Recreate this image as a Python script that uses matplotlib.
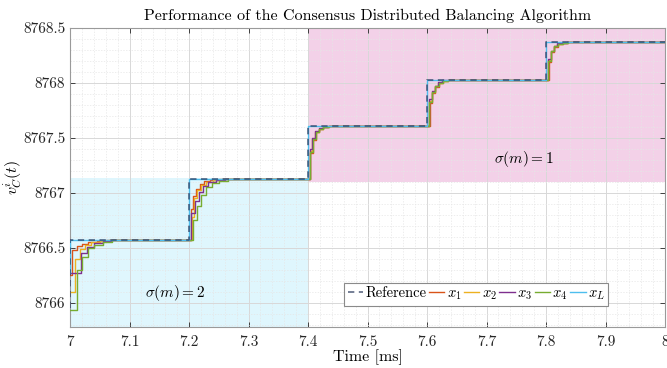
import matplotlib
matplotlib.use("Agg")
import matplotlib.pyplot as plt
from matplotlib.ticker import MultipleLocator
from matplotlib.patches import Rectangle

plt.rcParams['font.family'] = 'serif'
plt.rcParams['font.serif'] = ['cmr10', 'DejaVu Serif']
plt.rcParams['mathtext.fontset'] = 'cm'
plt.rcParams['axes.unicode_minus'] = False

# ---------------- data ----------------
xticks = [7.0, 7.1, 7.2, 7.3, 7.4, 7.5, 7.6, 7.7, 7.8, 7.9, 8.0]
xtick_labels = ['7', '7.1', '7.2', '7.3', '7.4', '7.5', '7.6', '7.7', '7.8', '7.9', '8']
yticks = [8766.0, 8766.5, 8767.0, 8767.5, 8768.0, 8768.5]
ytick_labels = ['8766', '8766.5', '8767', '8767.5', '8768', '8768.5']

t_ref = [7.0, 7.0, 7.2, 7.4, 7.6, 7.8, 8.0]
v_ref = [8765.95, 8766.57, 8767.125, 8767.61, 8768.03, 8768.37, 8768.37]

t_xL = [7.0, 7.0, 7.2, 7.4, 7.6, 7.8, 8.0]
v_xL = [8766.27, 8766.57, 8767.125, 8767.61, 8768.03, 8768.37, 8768.37]

t_x1 = [7.0, 7.004, 7.012, 7.02, 7.03, 7.045, 7.06,
        7.2035, 7.207, 7.212, 7.218, 7.226, 7.236, 7.25,
        7.404, 7.408, 7.413, 7.419, 7.426, 7.435,
        7.605, 7.609, 7.614, 7.62, 7.627, 7.636,
        7.805, 7.809, 7.814, 7.82, 7.828, 7.837, 8.0]
v_x1 = [8766.25, 8766.48, 8766.52, 8766.54, 8766.555, 8766.565, 8766.57,
        8766.85, 8766.97, 8767.04, 8767.08, 8767.105, 8767.118, 8767.125,
        8767.36, 8767.48, 8767.55, 8767.58, 8767.60, 8767.61,
        8767.82, 8767.91, 8767.965, 8768.00, 8768.02, 8768.03,
        8768.19, 8768.28, 8768.33, 8768.355, 8768.365, 8768.37, 8768.37]

t_x2 = [7.0, 7.008, 7.016, 7.025, 7.035, 7.05, 7.065,
        7.205, 7.209, 7.214, 7.22, 7.228, 7.24, 7.255,
        7.403, 7.407, 7.412, 7.418, 7.425, 7.434,
        7.604, 7.608, 7.613, 7.619, 7.626, 7.635,
        7.804, 7.808, 7.813, 7.819, 7.827, 7.836, 8.0]
v_x2 = [8766.10, 8766.40, 8766.49, 8766.53, 8766.55, 8766.565, 8766.57,
        8766.78, 8766.95, 8767.03, 8767.075, 8767.10, 8767.117, 8767.125,
        8767.38, 8767.49, 8767.555, 8767.585, 8767.602, 8767.61,
        8767.84, 8767.92, 8767.97, 8768.003, 8768.022, 8768.03,
        8768.21, 8768.29, 8768.335, 8768.357, 8768.366, 8768.37, 8768.37]

t_x3 = [7.0, 7.018, 7.028, 7.04, 7.055, 7.07,
        7.204, 7.21, 7.216, 7.223, 7.232, 7.245, 7.26,
        7.403, 7.407, 7.412, 7.418, 7.425, 7.433,
        7.604, 7.608, 7.613, 7.619, 7.626, 7.634,
        7.804, 7.808, 7.813, 7.819, 7.826, 7.835, 8.0]
v_x3 = [8766.27, 8766.45, 8766.51, 8766.545, 8766.562, 8766.57,
        8766.82, 8766.93, 8767.01, 8767.065, 8767.098, 8767.115, 8767.125,
        8767.40, 8767.50, 8767.56, 8767.59, 8767.604, 8767.61,
        8767.85, 8767.93, 8767.975, 8768.005, 8768.023, 8768.03,
        8768.22, 8768.295, 8768.34, 8768.36, 8768.367, 8768.37, 8768.37]

t_x4 = [7.0, 7.012, 7.02, 7.03, 7.04, 7.055, 7.07,
        7.207, 7.213, 7.22, 7.228, 7.238, 7.25, 7.265,
        7.403, 7.408, 7.413, 7.419, 7.426, 7.435,
        7.604, 7.609, 7.614, 7.62, 7.627, 7.636,
        7.804, 7.809, 7.814, 7.82, 7.828, 7.837, 8.0]
v_x4 = [8765.94, 8766.30, 8766.42, 8766.50, 8766.53, 8766.555, 8766.57,
        8766.75, 8766.88, 8766.98, 8767.05, 8767.09, 8767.112, 8767.125,
        8767.37, 8767.49, 8767.55, 8767.585, 8767.603, 8767.61,
        8767.83, 8767.92, 8767.97, 8768.003, 8768.022, 8768.03,
        8768.20, 8768.29, 8768.335, 8768.357, 8768.366, 8768.37, 8768.37]

# regions: (t_start, t_end, v_low, v_high)
region_sigma2 = (7.0, 7.4, 8765.78, 8767.135)
region_sigma1 = (7.4, 8.0, 8767.10, 8768.5)

# ---------------- figure ----------------
fig = plt.figure(figsize=(6.67, 3.68), dpi=100)
ax = fig.add_axes([0.105, 0.111, 0.892, 0.813])

ax.add_patch(Rectangle((region_sigma2[0], region_sigma2[2]),
                       region_sigma2[1] - region_sigma2[0],
                       region_sigma2[3] - region_sigma2[2],
                       facecolor='#dff6fd', edgecolor='none', zorder=1))
ax.add_patch(Rectangle((region_sigma1[0], region_sigma1[2]),
                       region_sigma1[1] - region_sigma1[0],
                       region_sigma1[3] - region_sigma1[2],
                       facecolor='#f3d1e8', edgecolor='none', zorder=1))

lw = 1.0
ax.plot(t_x1, v_x1, drawstyle='steps-post', color='#D95319', lw=lw, label='$x_1$', zorder=3)
ax.plot(t_x2, v_x2, drawstyle='steps-post', color='#EDB120', lw=lw, label='$x_2$', zorder=3)
ax.plot(t_x3, v_x3, drawstyle='steps-post', color='#7E2F8E', lw=lw, label='$x_3$', zorder=3)
ax.plot(t_x4, v_x4, drawstyle='steps-post', color='#77AC30', lw=lw, label='$x_4$', zorder=3)
ax.plot(t_xL, v_xL, drawstyle='steps-post', color='#4DBEEE', lw=lw, label='$x_L$', zorder=3)
ax.plot(t_ref, v_ref, drawstyle='steps-post', color='#2a3a5e', ls=(0, (3.5, 2.5)), lw=1.3,
        alpha=0.7, label='Reference', zorder=4)

ax.set_xlim(7.0, 8.0)
ax.set_ylim(8765.78, 8768.5)
ax.set_xticks(xticks)
ax.set_xticklabels(xtick_labels)
ax.set_yticks(yticks)
ax.set_yticklabels(ytick_labels)
ax.xaxis.set_minor_locator(MultipleLocator(0.02))
ax.yaxis.set_minor_locator(MultipleLocator(0.1))

ax.set_axisbelow('line')
ax.grid(True, which='major', color='#d8d8d8', lw=0.7)
ax.grid(True, which='minor', color='#e6e6e6', lw=0.5, ls=(0, (2, 2)))
ax.tick_params(which='both', direction='in', top=True, right=True, colors='#262626',
               labelsize=11, length=3.5, width=0.6)
ax.tick_params(which='minor', length=0)
ax.tick_params(axis='x', pad=6)
for s in ax.spines.values():
    s.set_color('#9a9a9a')
    s.set_linewidth(0.8)

ax.set_title('Performance of the Consensus Distributed Balancing Algorithm', fontsize=11.5, pad=6)
ax.set_xlabel('Time [ms]', fontsize=11.5, labelpad=0)
ax.set_ylabel('$v_C^i(t)$', fontsize=11.5)
ax.yaxis.set_label_coords(-0.078, 0.5)

ax.text(7.176, 8766.09, r'$\sigma(m) = 2$', fontsize=11, ha='center', va='center')
ax.text(7.763, 8767.31, r'$\sigma(m) = 1$', fontsize=11, ha='center', va='center')

handles, labels = ax.get_legend_handles_labels()
order = [5, 0, 1, 2, 3, 4]
leg = ax.legend([handles[i] for i in order], [labels[i] for i in order],
                ncol=6, loc='lower right', bbox_to_anchor=(0.905, 0.072),
                fontsize=10.5, frameon=True, fancybox=False, handlelength=1.05,
                handletextpad=0.15, columnspacing=0.2, borderpad=0.25,
                borderaxespad=0.0)
leg.get_frame().set_edgecolor('#8a8a8a')
leg.get_frame().set_linewidth(0.8)
leg.get_frame().set_facecolor('white')
leg.get_frame().set_alpha(1.0)

fig.savefig('out.png', dpi=100)
